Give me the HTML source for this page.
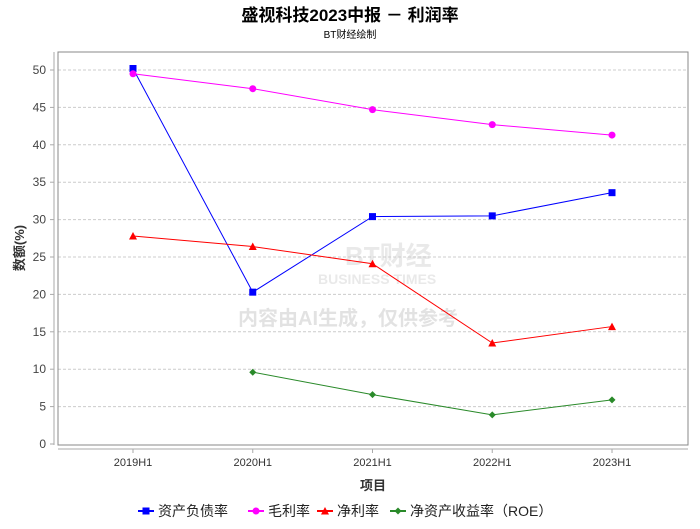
<!DOCTYPE html>
<html><head><meta charset="utf-8"><style>
body{margin:0;background:#fff;font-family:"Liberation Sans","Noto Sans CJK SC",sans-serif;}
svg text{font-family:"Liberation Sans","Noto Sans CJK SC",sans-serif;}
</style></head><body>
<svg id="c" width="700" height="524" xmlns="http://www.w3.org/2000/svg">
<rect width="700" height="524" fill="#fff"/>
<text x="350" y="21" text-anchor="middle" font-size="17" font-weight="bold" fill="#000">盛视科技2023中报 － 利润率</text>
<text x="350" y="38" text-anchor="middle" font-size="10" fill="#000">BT财经绘制</text>
<g opacity="0.18">
<text x="345" y="265" font-size="26" font-weight="bold" fill="#888">BT财经</text>
<text x="318" y="284" font-size="14" font-weight="bold" fill="#888">BUSINESS TIMES</text>
<text x="348" y="325" text-anchor="middle" font-size="20" font-weight="bold" fill="#666">内容由AI生成，仅供参考</text>
</g>
<g id="grid"></g>
<rect x="58" y="52" width="630" height="393" fill="none" stroke="#888"/>
<line x1="58" y1="449" x2="688" y2="449" stroke="#aaa"/>
<line x1="54" y1="52" x2="54" y2="445" stroke="#aaa"/>
<g id="axes"></g>
<g id="series"></g>
<text x="373" y="490" text-anchor="middle" font-size="13" font-weight="bold" fill="#333">项目</text>
<text transform="translate(24,248) rotate(-90)" text-anchor="middle" font-size="13" font-weight="bold" fill="#333">数额(%)</text>
<g id="legend"></g>
</svg>
<script>
const categories=["2019H1","2020H1","2021H1","2022H1","2023H1"];
const debtRatio=[50.2,20.3,30.4,30.5,33.6];
const grossMargin=[49.5,47.5,44.7,42.7,41.3];
const netMargin=[27.8,26.4,24.1,13.5,15.7];
const roe=[null,9.6,6.6,3.9,5.9];
const yTicks=[0,5,10,15,20,25,30,35,40,45,50];
const seriesNames=["资产负债率","毛利率","净利率","净资产收益率（ROE）"];
const NS="http://www.w3.org/2000/svg";
function x(i){return 133+119.75*i;}
function y(v){return 444-v*7.48;}
function mk(t,a,p){const e=document.createElementNS(NS,t);for(const k in a)e.setAttribute(k,a[k]);p.appendChild(e);return e;}
const grid=document.getElementById('grid'),axes=document.getElementById('axes');
yTicks.forEach(v=>{
 if(v>0){const g=mk('line',{x1:58,x2:688,y1:y(v),y2:y(v),stroke:'#ccc','stroke-dasharray':'3,2'},grid);
 
 }
 const t=mk('text',{x:46,y:y(v)+4,'text-anchor':'end','font-size':12,fill:'#444'},axes);t.textContent=v;
 
 
 mk('line',{x1:50,x2:54,y1:y(v),y2:y(v),stroke:'#aaa'},axes);
});
categories.forEach((c,i)=>{
 mk('line',{x1:x(i),x2:x(i),y1:449,y2:453,stroke:'#aaa'},axes);
 const t=mk('text',{x:x(i),y:466,'text-anchor':'middle','font-size':11,fill:'#333'},axes);t.textContent=c;
 
 
});
const sg=document.getElementById('series');
function marker(shape,cx,cy,col,p){
 if(shape==='sq')return mk('rect',{x:cx-3.5,y:cy-3.5,width:7,height:7,fill:col},p);
 if(shape==='ci')return mk('circle',{cx:cx,cy:cy,r:3.5,fill:col},p);
 if(shape==='tr')return mk('polygon',{points:`${cx},${cy-4} ${cx+4},${cy+3.5} ${cx-4},${cy+3.5}`,fill:col},p);
 return mk('polygon',{points:`${cx},${cy-3.5} ${cx+3.5},${cy} ${cx},${cy+3.5} ${cx-3.5},${cy}`,fill:col},p);
}
const defs=[[debtRatio,'#0000ff','sq','debt-ratio'],[grossMargin,'#ff00ff','ci','gross-margin'],[netMargin,'#ff0000','tr','net-margin'],[roe,'#2a8a2a','di','roe']];
defs.forEach(([d,col,sh,nm])=>{
 const g=mk('g',{},sg);
 
 
 const pts=[];d.forEach((v,i)=>{if(v!==null)pts.push(x(i)+','+y(v));});
 mk('polyline',{points:pts.join(' '),fill:'none',stroke:col,'stroke-width':1},g);
 d.forEach((v,i)=>{if(v===null)return;const m=marker(sh,x(i),y(v),col,g);
 
 });
});
const lg=document.getElementById('legend');
const lx=[140,250,319,392];
defs.forEach(([d,col,sh,nm],i)=>{
 const g=mk('g',{},lg);
 
 
 mk('line',{x1:lx[i]-2,x2:lx[i]+14,y1:511,y2:511,stroke:col,'stroke-width':2},g);
 marker(sh,lx[i]+6,511,col,g);
 const t=mk('text',{x:lx[i]+18,y:516,'font-size':14,fill:'#222'},g);t.textContent=seriesNames[i];
});
</script>
</body></html>
